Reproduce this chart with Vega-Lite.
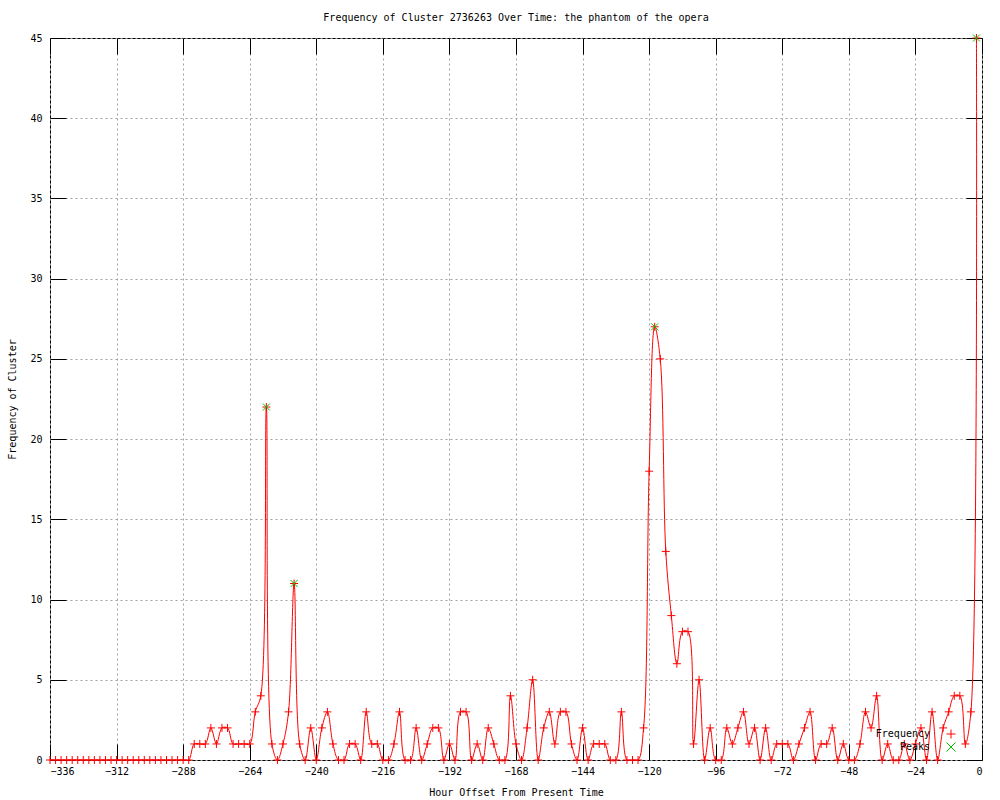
{
  "$schema": "https://vega.github.io/schema/vega-lite/v6.json",
  "autosize": "none",
  "width": 932,
  "height": 722,
  "padding": {"left": 50, "top": 38, "right": 18, "bottom": 40},
  "background": "white",
  "config": {
    "view": {"stroke": "#000000", "strokeWidth": 1},
    "font": "DejaVu Sans Mono",
    "axis": {"labelFont": "DejaVu Sans Mono", "labelFontSize": 10, "labelColor": "#000", "titleFont": "DejaVu Sans Mono", "titleFontSize": 10, "titleFontWeight": "normal", "titleColor": "#000", "domain": false, "tickColor": "#000", "tickSize": -16, "gridColor": "#a0a0a0", "gridDash": [2, 3], "gridOpacity": 1}
  },
  "title": {"text": "Frequency of Cluster 2736263 Over Time: the phantom of the opera", "font": "DejaVu Sans Mono", "fontSize": 10, "fontWeight": "normal", "color": "#000", "frame": "group", "offset": 1, "baseline": "alphabetic"},
  "datasets": {
    "freq": [
      {"h":-336,"f":0},{"h":-334,"f":0},{"h":-332,"f":0},{"h":-330,"f":0},{"h":-328,"f":0},{"h":-326,"f":0},{"h":-324,"f":0},{"h":-322,"f":0},{"h":-320,"f":0},{"h":-318,"f":0},{"h":-316,"f":0},{"h":-314,"f":0},{"h":-312,"f":0},{"h":-310,"f":0},{"h":-308,"f":0},{"h":-306,"f":0},{"h":-304,"f":0},{"h":-302,"f":0},{"h":-300,"f":0},{"h":-298,"f":0},{"h":-296,"f":0},{"h":-294,"f":0},{"h":-292,"f":0},{"h":-290,"f":0},{"h":-288,"f":0},{"h":-286,"f":0},
      {"h":-284,"f":1},{"h":-282,"f":1},{"h":-280,"f":1},{"h":-278,"f":2},{"h":-276,"f":1},{"h":-274,"f":2},{"h":-272,"f":2},{"h":-270,"f":1},{"h":-268,"f":1},{"h":-266,"f":1},{"h":-264,"f":1},{"h":-262,"f":3},{"h":-260,"f":4},{"h":-258,"f":22},{"h":-256,"f":1},{"h":-254,"f":0},{"h":-252,"f":1},{"h":-250,"f":3},{"h":-248,"f":11},{"h":-246,"f":1},{"h":-244,"f":0},{"h":-242,"f":2},{"h":-240,"f":0},{"h":-238,"f":2},{"h":-236,"f":3},{"h":-234,"f":1},{"h":-232,"f":0},{"h":-230,"f":0},{"h":-228,"f":1},{"h":-226,"f":1},{"h":-224,"f":0},{"h":-222,"f":3},{"h":-220,"f":1},{"h":-218,"f":1},{"h":-216,"f":0},{"h":-214,"f":0},{"h":-212,"f":1},{"h":-210,"f":3},{"h":-208,"f":0},{"h":-206,"f":0},{"h":-204,"f":2},{"h":-202,"f":0},{"h":-200,"f":1},{"h":-198,"f":2},{"h":-196,"f":2},{"h":-194,"f":0},{"h":-192,"f":1},{"h":-190,"f":0},{"h":-188,"f":3},{"h":-186,"f":3},{"h":-184,"f":0},{"h":-182,"f":1},{"h":-180,"f":0},{"h":-178,"f":2},{"h":-176,"f":1},{"h":-174,"f":0},{"h":-172,"f":0},{"h":-170,"f":4},{"h":-168,"f":1},{"h":-166,"f":0},{"h":-164,"f":2},{"h":-162,"f":5},{"h":-160,"f":0},{"h":-158,"f":2},{"h":-156,"f":3},{"h":-154,"f":1},{"h":-152,"f":3},{"h":-150,"f":3},{"h":-148,"f":1},{"h":-146,"f":0},{"h":-144,"f":2},{"h":-142,"f":0},{"h":-140,"f":1},{"h":-138,"f":1},{"h":-136,"f":1},{"h":-134,"f":0},{"h":-132,"f":0},{"h":-130,"f":3},{"h":-128,"f":0},{"h":-126,"f":0},{"h":-124,"f":0},{"h":-122,"f":2},{"h":-120,"f":18},{"h":-118,"f":27},{"h":-116,"f":25},{"h":-114,"f":13},{"h":-112,"f":9},{"h":-110,"f":6},{"h":-108,"f":8},{"h":-106,"f":8},{"h":-104,"f":1},{"h":-102,"f":5},{"h":-100,"f":0},{"h":-98,"f":2},{"h":-96,"f":0},{"h":-94,"f":0},{"h":-92,"f":2},{"h":-90,"f":1},{"h":-88,"f":2},{"h":-86,"f":3},{"h":-84,"f":1},{"h":-82,"f":2},{"h":-80,"f":0},{"h":-78,"f":2},{"h":-76,"f":0},{"h":-74,"f":1},{"h":-72,"f":1},{"h":-70,"f":1},{"h":-68,"f":0},{"h":-66,"f":1},{"h":-64,"f":2},{"h":-62,"f":3},{"h":-60,"f":0},{"h":-58,"f":1},{"h":-56,"f":1},{"h":-54,"f":2},{"h":-52,"f":0},{"h":-50,"f":1},{"h":-48,"f":0},{"h":-46,"f":0},{"h":-44,"f":1},{"h":-42,"f":3},{"h":-40,"f":2},{"h":-38,"f":4},{"h":-36,"f":0},{"h":-34,"f":1},{"h":-32,"f":0},{"h":-30,"f":0},{"h":-28,"f":1},{"h":-26,"f":0},{"h":-24,"f":1},{"h":-22,"f":2},{"h":-20,"f":0},{"h":-18,"f":3},{"h":-16,"f":0},{"h":-14,"f":2},{"h":-12,"f":3},{"h":-10,"f":4},{"h":-8,"f":4},{"h":-6,"f":1},{"h":-4,"f":3},{"h":-2,"f":45}
    ],
    "peaks": [
      {"h":-258,"f":22},{"h":-248,"f":11},{"h":-118,"f":27},{"h":-2,"f":45}
    ]
  },
  "layer": [
    {
      "data": {"name": "freq"},
      "mark": {"type": "line", "interpolate": "catmull-rom", "stroke": "#ff0000", "strokeWidth": 1},
      "encoding": {
        "x": {"field": "h", "type": "quantitative", "scale": {"domain": [-336, 0], "nice": false, "zero": false},
              "axis": {"orient": "bottom", "values": [-336,-312,-288,-264,-240,-216,-192,-168,-144,-120,-96,-72,-48,-24,0], "title": "Hour Offset From Present Time", "labelPadding": 22, "titlePadding": 11, "grid": true}},
        "y": {"field": "f", "type": "quantitative", "scale": {"domain": [0, 45], "nice": false},
              "axis": {"orient": "left", "values": [0,5,10,15,20,25,30,35,40,45], "title": "Frequency of Cluster", "labelPadding": 24, "titlePadding": 12, "grid": true}}
      }
    },
    {
      "data": {"name": "freq"},
      "mark": {"type": "point", "filled": false, "strokeWidth": 1, "size": 64, "opacity": 1},
      "encoding": {
        "x": {"field": "h", "type": "quantitative",
              "axis": {"orient": "top", "values": [-336,-312,-288,-264,-240,-216,-192,-168,-144,-120,-96,-72,-48,-24,0], "labels": false, "title": null, "grid": false}},
        "y": {"field": "f", "type": "quantitative",
              "axis": {"orient": "right", "values": [0,5,10,15,20,25,30,35,40,45], "labels": false, "title": null, "grid": false}},
        "color": {"datum": "Frequency", "type": "nominal",
                  "scale": {"domain": ["Frequency", "Peaks"], "range": ["#ff0000", "#00c000"]},
                  "legend": {"title": null, "orient": "none", "legendX": 896, "legendY": 691, "padding": 0, "labelFont": "DejaVu Sans Mono", "labelFontSize": 10, "labelColor": "#000", "labelAlign": "right", "labelOffset": -26, "symbolSize": 81, "symbolStrokeWidth": 1, "rowPadding": -1,
                             "encode": {"symbols": {"update": {"shape": {"signal": "datum.value === 'Frequency' ? 'M-3.7,0L3.7,0M0,-0.9L0,0.9' : 'M-0.8,-0.8L0.8,0.8M0.8,-0.8L-0.8,0.8'"}, "fill": {"value": "transparent"}}}}}},
        "shape": {"datum": "Frequency", "type": "nominal",
                  "scale": {"domain": ["Frequency", "Peaks"], "range": ["M-1,0L1,0M0,-1L0,1", "M-1,-1L1,1M1,-1L-1,1"]},
                  "legend": null}
      }
    },
    {
      "data": {"name": "peaks"},
      "mark": {"type": "point", "filled": false, "strokeWidth": 1, "size": 49, "opacity": 1},
      "encoding": {
        "x": {"field": "h", "type": "quantitative", "axis": null},
        "y": {"field": "f", "type": "quantitative", "axis": null},
        "color": {"datum": "Peaks", "type": "nominal"},
        "shape": {"datum": "Peaks", "type": "nominal", "legend": null}
      }
    }
  ],
  "resolve": {"axis": {"x": "independent", "y": "independent"}}
}
